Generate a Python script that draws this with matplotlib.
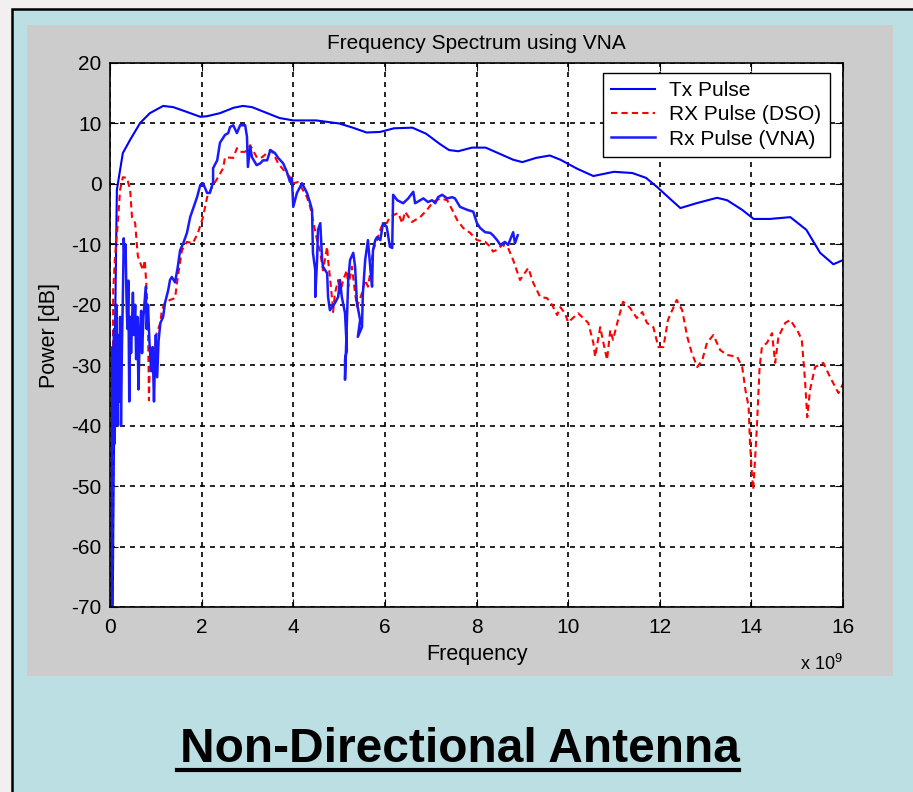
import matplotlib
matplotlib.use('Agg')
import matplotlib.pyplot as plt
from matplotlib.patches import Rectangle
from matplotlib.lines import Line2D

# Frequency axis in GHz (plotted as x 10^9)
# Tx Pulse (smooth curve)
tx_f = [0.06, 0.10, 0.15, 0.22, 0.28, 0.44, 0.66, 0.87, 1.16, 1.38, 1.68, 1.97, 2.12, 2.40,
        2.70, 2.90, 3.10, 3.40, 3.70, 4.00, 4.50, 5.00, 5.30, 5.60, 5.90, 6.20, 6.60, 6.90,
        7.20, 7.40, 7.60, 7.90, 8.20, 8.50, 8.80, 9.00, 9.30, 9.60, 9.83, 10.20, 10.55,
        11.00, 11.40, 11.70, 11.94, 12.20, 12.45, 12.80, 13.25, 13.47, 13.80, 14.05, 14.40,
        14.85, 15.20, 15.50, 15.79, 16.00]
tx_db = [-70.0, -30.0, -1.0, 2.3, 5.1, 7.3, 10.1, 11.7, 12.9, 12.7, 11.9, 11.1, 11.2, 11.7,
         12.6, 12.9, 12.7, 11.8, 10.9, 10.5, 10.5, 10.0, 9.3, 8.5, 8.6, 9.2, 9.3, 8.3,
         6.6, 5.6, 5.4, 6.0, 6.0, 5.0, 4.0, 3.6, 4.3, 4.7, 4.0, 2.5, 1.3,
         2.0, 1.8, 1.0, -0.5, -2.3, -4.0, -3.2, -2.3, -2.7, -4.3, -5.8, -5.8,
         -5.5, -7.6, -11.4, -13.3, -12.6]

# RX Pulse (DSO)
dso_f = [0.05, 0.06, 0.07, 0.11, 0.17, 0.22, 0.28, 0.37, 0.44, 0.48, 0.55, 0.59, 0.61, 0.72,
         0.76, 0.80, 0.83, 0.85, 0.87, 0.94, 0.98, 1.02, 1.10, 1.13, 1.20, 1.31, 1.42, 1.48,
         1.57, 1.68, 1.81, 1.92, 2.03, 2.12, 2.23, 2.35, 2.47, 2.51, 2.69, 2.77, 2.84, 2.95,
         3.06, 3.21, 3.32, 3.50, 3.56, 3.67, 3.82, 3.93, 4.00, 4.10, 4.21, 4.30, 4.37, 4.43,
         4.52, 4.59, 4.65, 4.74, 4.76, 4.80, 4.85, 4.87, 4.91, 4.98, 5.02, 5.09, 5.17, 5.20,
         5.28, 5.35, 5.39, 5.50, 5.57, 5.63, 5.68, 5.74, 5.83, 5.90, 5.96, 6.04, 6.11, 6.18,
         6.29, 6.38, 6.44, 6.59, 6.77, 6.92, 7.05, 7.21, 7.36, 7.47, 7.58, 7.71, 7.86, 8.01,
         8.19, 8.30, 8.36, 8.45, 8.56, 8.69, 8.80, 8.95, 9.13, 9.24, 9.39, 9.54, 9.65, 9.76,
         9.83, 9.93, 10.00, 10.22, 10.44, 10.55, 10.59, 10.70, 10.77, 10.85, 10.92, 10.98,
         11.09, 11.20, 11.35, 11.50, 11.62, 11.72, 11.86, 11.97, 12.08, 12.18, 12.30, 12.37,
         12.49, 12.60, 12.70, 12.82, 12.93, 13.03, 13.17, 13.32, 13.47, 13.69, 13.80, 13.87,
         13.94, 13.97, 14.01, 14.04, 14.08, 14.12, 14.18, 14.23, 14.34, 14.45, 14.52, 14.59,
         14.74, 14.85, 15.02, 15.10, 15.17, 15.22, 15.28, 15.39, 15.57, 15.72, 15.90, 16.00]
dso_db = [-70.0, -40.0, -17.6, -12.0, -6.5, -1.0, 1.1, 1.0, -1.0, -5.5, -6.5, -10.4, -12.0, -14.3,
          -12.6, -17.6, -23.0, -35.8, -28.6, -31.0, -27.5, -24.7, -23.0, -20.9, -19.7, -19.2, -18.9, -15.4,
          -11.0, -9.6, -9.8, -8.1, -5.5, -2.2, -0.5, 1.0, 2.6, 4.4, 4.3, 5.9, 5.3, 5.3,
          6.4, 4.3, 4.4, 5.6, 5.1, 3.4, 2.0, 1.1, 0.1, 0.3, -1.0, -2.2, -3.8, -6.0,
          -9.3, -11.4, -14.3, -10.4, -12.6, -15.4, -19.2, -21.2, -18.1, -15.9, -18.1, -15.9, -14.3, -17.0,
          -13.7, -18.1, -20.3, -18.1, -15.9, -17.0, -14.8, -11.0, -9.3, -7.6, -6.5, -6.5, -5.5, -5.2,
          -4.8, -6.5, -4.6, -6.3, -5.5, -4.3, -3.0, -2.4, -2.7, -4.3, -6.0, -7.3, -8.1, -9.3,
          -9.6, -10.4, -11.2, -10.9, -10.1, -10.6, -12.6, -15.9, -13.9, -16.4, -18.7, -18.9, -20.0, -21.7,
          -20.4, -21.4, -22.9, -21.4, -23.0, -26.3, -28.6, -23.7, -26.3, -29.1, -24.2, -25.8,
          -22.5, -19.5, -20.5, -22.2, -21.2, -23.0, -23.7, -27.0, -27.0, -22.5, -20.4, -19.2,
          -20.9, -25.3, -28.0, -30.3, -29.1, -26.3, -25.0, -27.5, -28.3, -28.6, -30.3, -34.1,
          -36.9, -42.9, -47.8, -50.6, -45.7, -40.2, -30.3, -27.0, -26.3, -24.7, -29.6, -25.3,
          -23.0, -22.5, -24.5, -25.8, -32.4, -38.6, -34.1, -30.3, -29.6, -32.0, -34.6, -33.1]

# Rx Pulse (VNA)
vna_f = [0.04, 0.05, 0.07, 0.09, 0.10, 0.12, 0.14, 0.16, 0.18, 0.20, 0.22, 0.24, 0.26, 0.28,
         0.30, 0.32, 0.34, 0.36, 0.38, 0.40, 0.42, 0.44, 0.46, 0.50, 0.52, 0.55, 0.57, 0.60,
         0.62, 0.65, 0.68, 0.70, 0.73, 0.76, 0.78, 0.80, 0.83, 0.86, 0.90, 0.93, 0.96, 0.98,
         1.00, 1.03, 1.06, 1.10, 1.16, 1.20, 1.27, 1.31, 1.35, 1.42, 1.48, 1.53, 1.60, 1.68,
         1.75, 1.90, 1.97, 2.03, 2.12, 2.18, 2.25, 2.25, 2.34, 2.40, 2.51, 2.58, 2.62, 2.69,
         2.77, 2.84, 2.95, 2.99, 3.01, 3.06, 3.10, 3.20, 3.28, 3.34, 3.43, 3.50, 3.60, 3.67,
         3.78, 3.86, 3.90, 3.93, 3.97, 4.00, 4.08, 4.19, 4.30, 4.37, 4.41, 4.43, 4.48, 4.48,
         4.52, 4.54, 4.59, 4.63, 4.65, 4.74, 4.76, 4.80, 4.91, 4.98, 5.02, 5.06, 5.13, 5.17,
         5.13, 5.13, 5.20, 5.24, 5.31, 5.35, 5.39, 5.46, 5.41, 5.50, 5.52, 5.57, 5.63, 5.68,
         5.72, 5.74, 5.79, 5.83, 5.90, 5.96, 6.04, 6.11, 6.16, 6.18, 6.27, 6.40, 6.51, 6.62,
         6.66, 6.84, 6.94, 7.03, 7.10, 7.16, 7.25, 7.36, 7.47, 7.53, 7.64, 7.80, 7.93, 8.01,
         8.08, 8.19, 8.30, 8.36, 8.45, 8.52, 8.62, 8.69, 8.80, 8.84, 8.90]
vna_db = [-70.0, -27.0, -30.0, -24.0, -43.0, -30.0, -20.0, -40.0, -25.0, -36.0, -22.0, -40.0, -27.0, -19.0,
          -9.0, -13.0, -10.0, -19.0, -24.0, -16.0, -36.0, -22.0, -28.0, -18.0, -25.0, -20.0, -29.0, -22.0,
          -34.0, -25.0, -21.0, -28.0, -22.0, -19.0, -17.0, -24.0, -20.0, -26.0, -31.0, -27.0, -36.0, -30.0,
          -25.0, -32.0, -26.0, -23.0, -22.0, -19.7, -17.6, -15.9, -15.4, -16.3, -13.7, -11.0, -9.8, -8.1,
          -5.5, -2.2, -0.2, 0.1, -1.5, -1.5, 0.3, 2.6, 3.9, 6.8, 8.1, 8.4, 9.4, 9.7,
          8.4, 9.7, 9.7, 7.8, 2.8, 6.1, 4.4, 3.1, 3.4, 3.9, 3.9, 5.6, 5.1, 4.3,
          3.4, 2.0, 1.0, 0.3, 1.0, -3.8, -1.5, 0.1, -1.5, -3.2, -4.3, -11.4, -14.3, -18.7,
          -12.6, -7.6, -6.5, -12.6, -13.7, -14.8, -18.7, -20.9, -19.7, -18.7, -15.9, -18.7, -21.4, -27.5,
          -29.1, -32.4, -15.9, -12.6, -11.4, -13.7, -19.7, -22.5, -25.3, -23.7, -18.1, -12.6, -9.3, -13.7,
          -17.0, -11.0, -9.3, -8.8, -9.3, -6.5, -7.1, -10.4, -10.6, -1.8, -2.7, -3.2, -2.4, -1.3,
          -3.2, -2.4, -3.0, -2.7, -3.2, -2.2, -1.8, -2.4, -2.2, -2.4, -3.8, -4.3, -4.6, -6.5,
          -7.3, -8.0, -8.1, -8.5, -9.3, -10.1, -9.6, -10.1, -8.0, -9.8, -8.5]

x_ticks = [0, 2, 4, 6, 8, 10, 12, 14, 16]
y_ticks = [-70, -60, -50, -40, -30, -20, -10, 0, 10, 20]

plt.rcParams['font.family'] = ['Liberation Sans', 'DejaVu Sans']
plt.rcParams['mathtext.default'] = 'regular'
plt.rcParams['axes.unicode_minus'] = False

fig = plt.figure(figsize=(9.13, 7.92), dpi=100, facecolor='#f1efef')

# light blue slide panel and grey matlab figure area (behind the axes)
fig.patches.append(Rectangle((12 / 913, -0.01), 1.0, 1 - 9 / 792 + 0.01, transform=fig.transFigure,
                             facecolor='#bbdfe2', edgecolor='black', linewidth=1.8, zorder=-2))
fig.patches.append(Rectangle((27 / 913, 1 - 676 / 792), (893 - 27) / 913, (676 - 25) / 792,
                             transform=fig.transFigure, facecolor='#cccccc', edgecolor='none', zorder=-1))

ax = fig.add_axes([110 / 913, 1 - 607 / 792, (843 - 110) / 913, (607 - 63) / 792])
ax.set_facecolor('white')
ax.set_zorder(1)

ax.plot(tx_f, tx_db, color='#0000ff', linewidth=1.5, label='Tx Pulse')
ax.plot(dso_f, dso_db, color='#ff0000', linewidth=1.5, linestyle=(0, (3, 2)), label='RX Pulse (DSO)')
ax.plot(vna_f, vna_db, color='#1a1aff', linewidth=1.8, label='Rx Pulse (VNA)')

ax.set_xlim(0, 16)
ax.set_ylim(-70, 20)
ax.set_xticks(x_ticks)
ax.set_yticks(y_ticks)
ax.tick_params(direction='in', top=True, right=True, length=6, labelsize=15)
ax.tick_params(axis='x', pad=8)
ax.tick_params(axis='y', pad=6)
ax.grid(True, color='black', linestyle=(0, (3, 3)), linewidth=1.2)
for s in ax.spines.values():
    s.set_linewidth(1.2)

ax.set_title('Frequency Spectrum using VNA', fontsize=15, pad=10)
ax.set_xlabel('Frequency', fontsize=15.5, labelpad=5)
ax.set_ylabel('Power [dB]', fontsize=15.5, labelpad=8)
ax.text(1.0, -0.105, r'x 10$^{9}$', transform=ax.transAxes, ha='right', va='center', fontsize=13)

leg = ax.legend(loc='upper right', bbox_to_anchor=(0.982, 0.982), borderaxespad=0, fontsize=15,
                fancybox=False, framealpha=1, edgecolor='black', handlelength=2.1, labelspacing=0.25,
                borderpad=0.4, handletextpad=0.7)
leg.get_frame().set_linewidth(1.0)

fig.text(460 / 913, 1 - 762 / 792, 'Non-Directional Antenna', ha='center', va='baseline',
         fontsize=34.5, fontweight='bold')
fig.lines.append(Line2D([177 / 913, 739 / 913], [1 - 770 / 792, 1 - 770 / 792], transform=fig.transFigure,
                        color='black', linewidth=3))

fig.savefig('out.png', dpi=100, facecolor=fig.get_facecolor())
